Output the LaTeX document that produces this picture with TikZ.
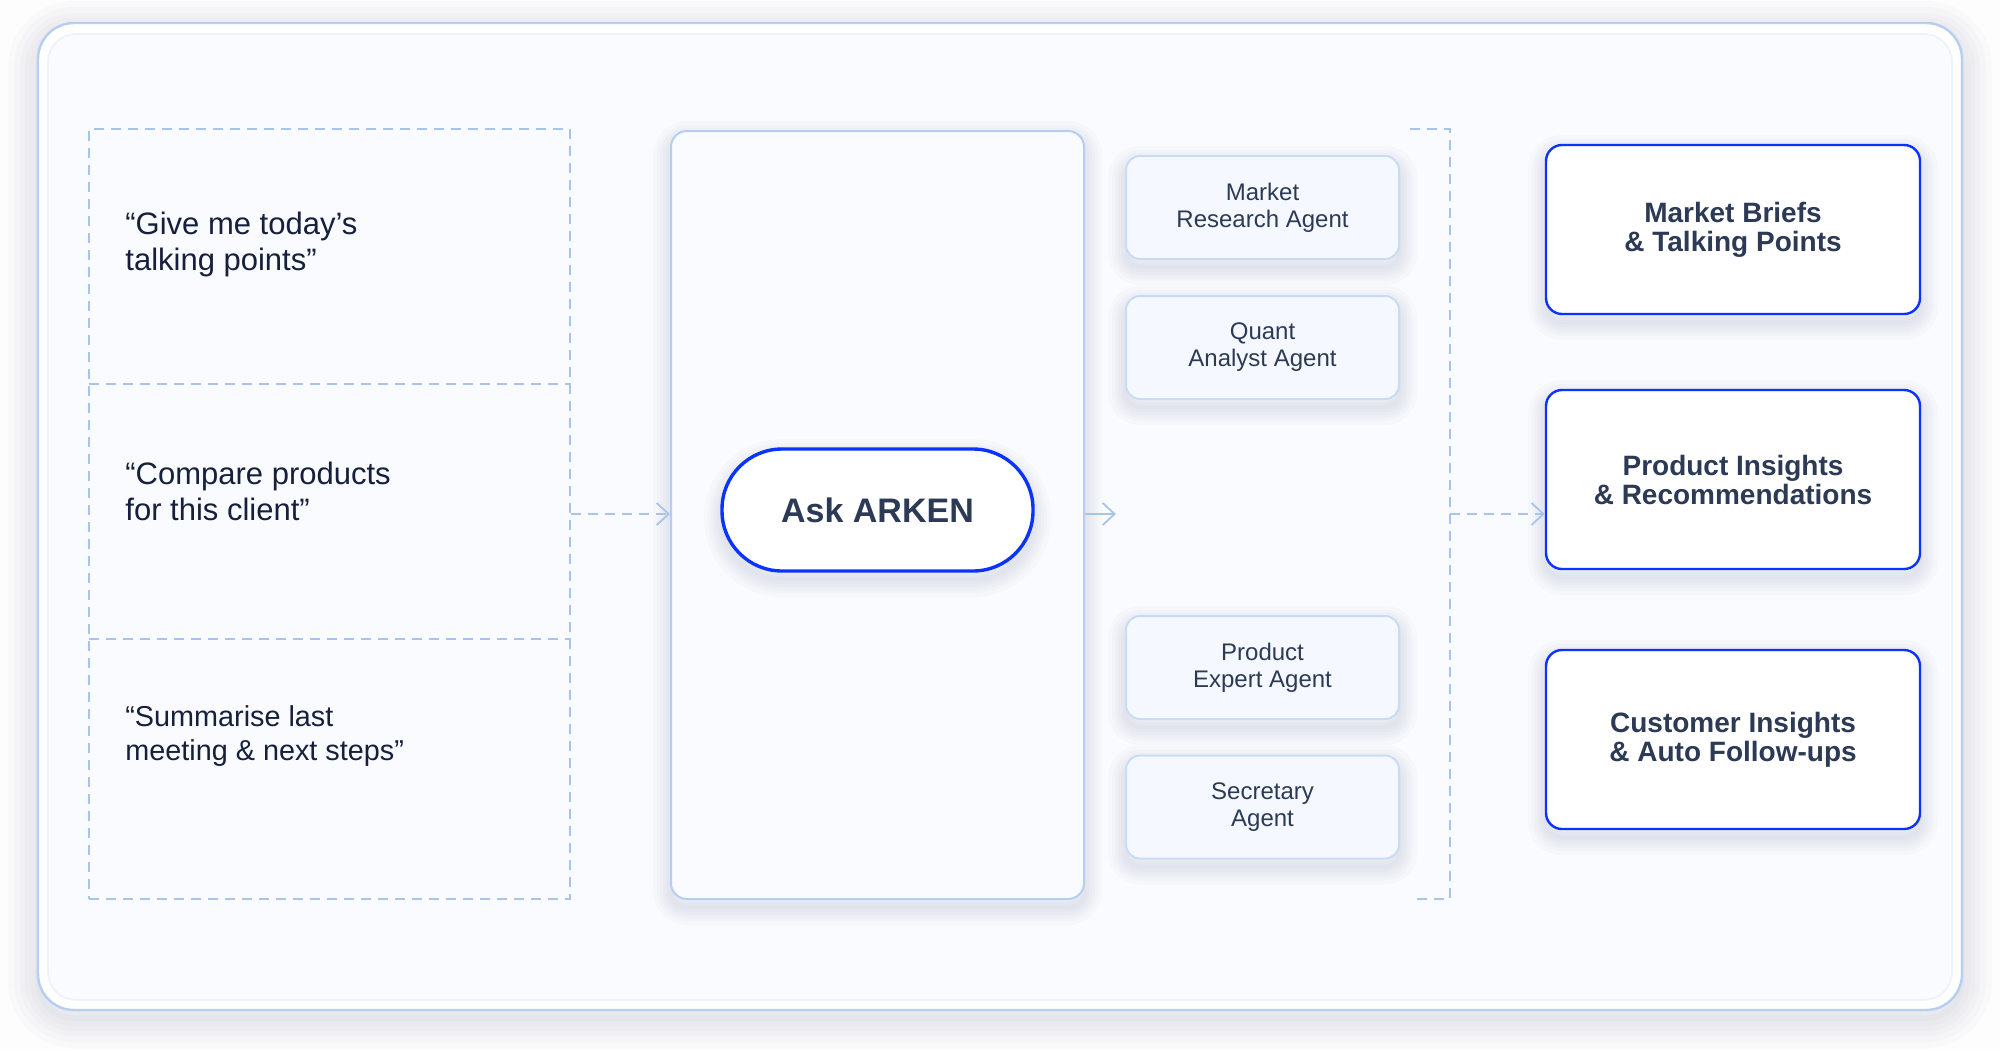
\documentclass[tikz,border=0pt]{standalone}
\usepackage{fontspec}
\setmainfont{Liberation Sans}
\usetikzlibrary{arrows.meta,calc}
\definecolor{frameblue}{HTML}{B5CEF1}
\definecolor{dashblue}{HTML}{A7C5EC}
\definecolor{panelfill}{HTML}{F9FBFE}
\definecolor{agentfill}{HTML}{F5F9FF}
\definecolor{agentline}{HTML}{C9DCF5}
\definecolor{strongblue}{HTML}{0A33FF}
\definecolor{darktext}{HTML}{2C3A56}
\definecolor{quotetext}{HTML}{16203D}
\definecolor{pagebg}{HTML}{FDFDFD}
\definecolor{innerline}{HTML}{EDF2FA}
\definecolor{shadowcol}{HTML}{1E2A50}
\tikzset{
  shl/.style={preaction={draw=shadowcol,draw opacity=0.016,line width=#1,transform canvas={yshift=-4pt}}},
  softshadow/.style={shl=2pt,shl=5pt,shl=8pt,shl=11pt,shl=14pt,shl=18pt},
  bigshadow/.style={shl=3pt,shl=8pt,shl=13pt,shl=18pt,shl=24pt,shl=30pt},
  dashline/.style={draw=dashblue,line width=0.9pt,dash pattern=on 5pt off 3.5pt},
  barb/.style={-{Straight Barb[length=6pt,width=11pt,line width=0.9pt]}},
  quote/.style={anchor=west,align=left,inner sep=0pt,text=quotetext,font=\fontsize{15.5}{18}\selectfont},
  centerbox/.style={draw=frameblue,line width=1pt,fill=panelfill,rounded corners=8pt,inner sep=0pt,softshadow},
  pill/.style={draw=strongblue,line width=1.7pt,fill=white,rounded corners=30pt,inner sep=0pt,text=darktext,font=\fontsize{17}{20}\selectfont\bfseries,softshadow},
  agent/.style={draw=agentline,line width=1pt,fill=agentfill,rounded corners=7pt,inner sep=0pt,align=center,text=darktext,font=\fontsize{12}{13.5}\selectfont,minimum width=136.5pt,minimum height=51.5pt,softshadow},
  output/.style={draw=strongblue,line width=1.2pt,fill=white,rounded corners=8pt,inner sep=0pt,align=center,text=darktext,font=\fontsize{14}{14.5}\selectfont\bfseries,minimum width=187pt,softshadow},
}
\begin{document}
\begin{tikzpicture}[x=0.5pt,y=-0.5pt]
\useasboundingbox (0,0) rectangle (2000,1050);
\fill[pagebg] (0,0) rectangle (2000,1050);
% outer frame
\draw[frameblue,line width=1.2pt,fill=white,rounded corners=18pt,bigshadow] (38,23) rectangle (1962,1010);
\draw[innerline,line width=0.8pt,fill=panelfill,rounded corners=14pt] (48,34) rectangle (1952,1000);

% left column of requests
\node[dashline,minimum width=240.5pt,minimum height=385pt,inner sep=0pt] (col) at (329.5,514) {};
\coordinate (d1) at (89,384);
\coordinate (d2) at (89,639);
\draw[dashline] (d1) -- (d1 -| col.east);
\draw[dashline] (d2) -- (d2 -| col.east);
\node[quote] (q1) at (125,244) {“Give me today’s\\talking points”};
\node[quote] (q2) at (125,491) {“Compare products\\for this client”};
\node[quote,font=\fontsize{14.4}{16.6}\selectfont] (q3) at (125,736) {“Summarise last\\meeting \& next steps”};

% centre
\node[centerbox,minimum width=206.5pt,minimum height=384pt] (hub) at (877.5,515) {};
\node[pill,minimum width=155.5pt,minimum height=61pt] (ask) at (877.5,510) {Ask ARKEN};

\draw[dashline,barb] (col.east |- 0,514) -- (hub.west |- 0,514);

% agents
\node[agent] (a1) at (1262.5,207.5) {Market\\Research Agent};
\node[agent] (a2) at (1262.5,347.5) {Quant\\Analyst Agent};
\node[agent] (a3) at (1262.5,667.5) {Product\\Expert Agent};
\node[agent] (a4) at (1262.5,807) {Secretary\\Agent};

\coordinate (agin) at (1116,514);
\draw[draw=dashblue,line width=0.9pt,barb] (hub.east |- agin) -- (agin);

% bracket
\coordinate (b1) at (1410,129);
\coordinate (b2) at (1450,129);
\coordinate (b3) at (1450,899);
\coordinate (b4) at (1410,899);
\coordinate (bm) at (1450,514);
\draw[dashline] (b1) -- (b2) -- (b3) -- (b4);

% outputs
\node[output,minimum height=84.5pt] (o1) at (1733,229.5) {Market Briefs\\\& Talking Points};
\node[output,minimum height=89.5pt] (o2) at (1733,479.5) {Product Insights\\\& Recommendations};
\node[output,minimum height=89.5pt] (o3) at (1733,739.5) {Customer Insights\\\& Auto Follow-ups};

\draw[dashline,barb] (bm) -- (o2.west |- bm);
\end{tikzpicture}
\end{document}
